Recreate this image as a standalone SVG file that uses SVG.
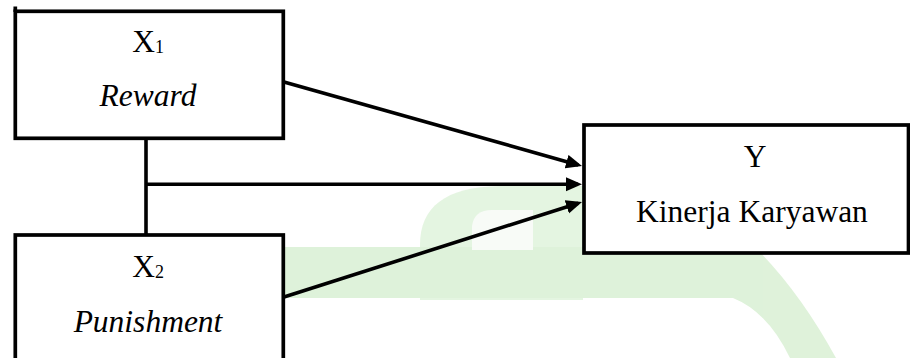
<svg xmlns="http://www.w3.org/2000/svg" width="910" height="358" viewBox="0 0 910 358">
  <style>
    .box { fill: #ffffff; stroke: #000000; stroke-width: 3.7; }
    .link { fill: none; stroke: #000000; stroke-width: 3.6; }
    text { font-family: 'Liberation Serif', 'Times New Roman', 'DejaVu Serif', serif; font-size: 31.5px; fill: #000000; text-anchor: middle; }
    .it { font-style: italic; }
    .sub { font-size: 18px; }
    .wm { fill: #dbf1d6; }
  </style>
  <defs>
    <marker id="arrow" markerUnits="userSpaceOnUse" markerWidth="17" markerHeight="15" refX="12" refY="7" orient="auto">
      <path d="M0,0 L16,7 L0,14 Z" fill="#000000"/>
    </marker>
  </defs>

  <rect width="910" height="358" fill="#ffffff"/>

  <!-- faint background emblem -->
  <g id="emblem" opacity="0.9">
    <rect class="wm" x="284" y="247" width="450" height="51"/>
    <path class="wm" d="M420,300 L420,245 C420,207 445,187 500,186 L583,186 L583,300 Z" opacity="0.8"/>
    <path d="M472,250 L472,226 Q474,210 492,210 L533,210 L533,250 Z" fill="#f8fbf7"/>
    <path class="wm" d="M733,247 L755,247 Q800,292 836,358 L790,358 Q768,312 733,298 Z"/>
  </g>

  <!-- connectors -->
  <g id="connectors">
    <line class="link" x1="146" y1="138" x2="146" y2="235"/>
    <line class="link" x1="146" y1="184.3" x2="578" y2="184.3" marker-end="url(#arrow)"/>
    <line class="link" x1="284" y1="82" x2="578.15" y2="164.9" marker-end="url(#arrow)"/>
    <line class="link" x1="284" y1="297" x2="578.2" y2="203.2" marker-end="url(#arrow)"/>
  </g>

  <g id="x1">
    <rect class="box" x="15.3" y="11.3" width="268" height="127"/>
    <line x1="15.3" y1="6.5" x2="15.3" y2="12" stroke="#000000" stroke-width="3.7"/>
    <text x="148" y="52">X<tspan class="sub" dy="1">1</tspan></text>
    <text class="it" x="148" y="106">Reward</text>
  </g>

  <g id="x2">
    <rect class="box" x="15.3" y="235" width="268" height="140"/>
    <text x="148" y="277">X<tspan class="sub" dy="1">2</tspan></text>
    <text class="it" x="148" y="332">Punishment</text>
  </g>

  <g id="y">
    <rect class="box" x="584" y="125" width="324.5" height="128"/>
    <text x="755" y="167">Y</text>
    <text x="752" y="222">Kinerja Karyawan</text>
  </g>
</svg>
